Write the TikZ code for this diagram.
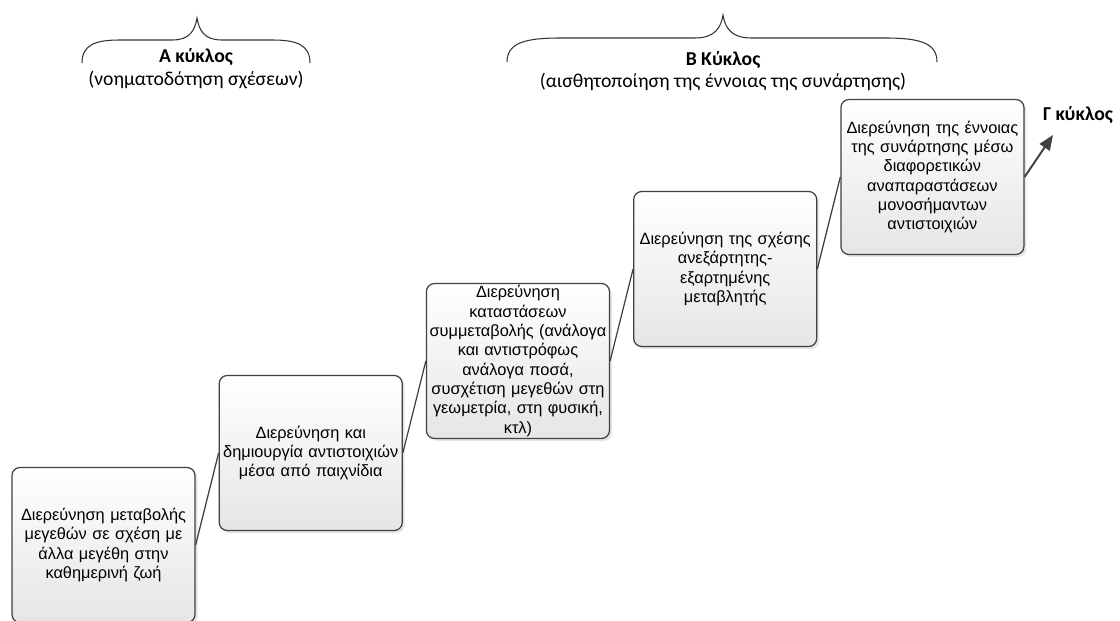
\documentclass[tikz,border=0pt]{standalone}
\usepackage{fontspec}
\setmainfont{Liberation Sans}
\newfontfamily\calfont{Carlito}
\usetikzlibrary{arrows.meta, positioning, shadows}

\begin{document}
\begin{tikzpicture}[
        stage/.style={rectangle, rounded corners=0.16cm, draw=black!75, line width=0.7pt, top color=white, bottom color=black!10, drop shadow={opacity=0.2, shadow xshift=0.05cm, shadow yshift=-0.05cm}, text width=3.64cm, minimum height=3.1cm, inner sep=0.01cm, align=center, font=\fontsize{9.3}{11}\selectfont},
        link/.style={draw=black!75, line width=0.7pt},
        arrow/.style={-{Triangle[length=0.3cm, width=0.24cm]}, draw=black!75, fill=black!75, line width=1.1pt},
        cyclelabel/.style={align=center, font=\calfont\fontsize{11.2}{12.8}\selectfont},
        brace/.style={draw=black!80, line width=0.6pt}
    ]
        \useasboundingbox (0,0) rectangle (22.4,-12.42);

        \node[stage] (b1) at (2.07,-10.9) {Διερεύνηση μεταβολής\\μεγεθών σε σχέση με\\άλλα μεγέθη στην\\καθημερινή ζωή};
        \node[stage, right=0.46cm of b1, yshift=1.84cm] (b2) {Διερεύνηση και\\δημιουργία αντιστοιχιών\\μέσα από παιχνίδια};
        \node[stage, right=0.46cm of b2, yshift=1.84cm] (b3) {Διερεύνηση\\καταστάσεων\\συμμεταβολής (ανάλογα\\και αντιστρόφως\\ανάλογα ποσά,\\συσχέτιση μεγεθών στη\\γεωμετρία, στη φυσική,\\κτλ)};
        \node[stage, right=0.46cm of b3, yshift=1.84cm] (b4) {Διερεύνηση της σχέσης\\ανεξάρτητης-\\εξαρτημένης\\μεταβλητής};
        \node[stage, right=0.46cm of b4, yshift=1.84cm] (b5) {Διερεύνηση της έννοιας\\της συνάρτησης μέσω\\διαφορετικών\\αναπαραστάσεων\\μονοσήμαντων\\αντιστοιχιών};

        \draw[link] (b1.east) -- (b2.west);
        \draw[link] (b2.east) -- (b3.west);
        \draw[link] (b3.east) -- (b4.west);
        \draw[link] (b4.east) -- (b5.west);

        % next cycle
        \coordinate (gtip) at (21.06,-2.7);
        \draw[arrow] (b5.east) -- (gtip);
        \node[cyclelabel, font=\calfont\bfseries\fontsize{11.2}{12.8}\selectfont] (cycG) at (21.56,-2.3) {Γ κύκλος};

        % braces over the cycles
        \draw[brace] (1.64,-1.26) .. controls (1.64,-0.9) and (1.9,-0.8) .. (2.4,-0.8) -- (3.45,-0.8)
            .. controls (3.8,-0.8) and (3.9,-0.6) .. (3.94,-0.36)
            .. controls (3.98,-0.6) and (4.08,-0.8) .. (4.43,-0.8) -- (5.44,-0.8)
            .. controls (5.94,-0.8) and (6.2,-0.9) .. (6.2,-1.26);
        \node[cyclelabel] (cycA) at (3.92,-1.37) {\textbf{Α κύκλος}\\(νοηματοδότηση σχέσεων)};

        \draw[brace] (10.14,-1.24) .. controls (10.14,-0.86) and (10.5,-0.76) .. (11.2,-0.76) -- (13.9,-0.76)
            .. controls (14.3,-0.76) and (14.42,-0.55) .. (14.46,-0.3)
            .. controls (14.5,-0.55) and (14.62,-0.76) .. (15.02,-0.76) -- (17.7,-0.76)
            .. controls (18.4,-0.76) and (18.74,-0.86) .. (18.74,-1.24);
        \node[cyclelabel] (cycB) at (14.46,-1.42) {\textbf{Β Κύκλος}\\(αισθητοποίηση της έννοιας της συνάρτησης)};
    \end{tikzpicture}
\end{document}
